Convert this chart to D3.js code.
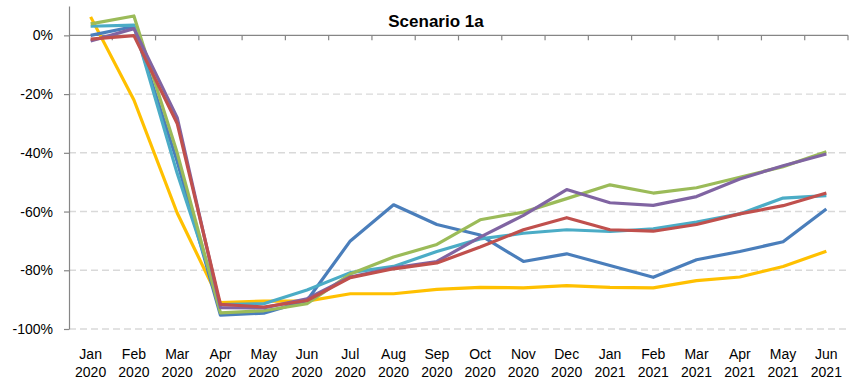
<!DOCTYPE html>
<html>
<head>
<meta charset="utf-8">
<script src="https://cdn.jsdelivr.net/npm/d3@7"></script>
<style>
  html, body { margin: 0; padding: 0; background: #fff; }
  svg { display: block; font-family: "Liberation Sans", Arial, sans-serif; }
</style>
</head>
<body>
<svg id="chart" width="853" height="379"></svg>
<script>
// Month categories (two-line labels: month / year)
const months = ["Jan","Feb","Mar","Apr","May","Jun","Jul","Aug","Sep","Oct","Nov","Dec","Jan","Feb","Mar","Apr","May","Jun"];
const years  = ["2020","2020","2020","2020","2020","2020","2020","2020","2020","2020","2020","2020","2021","2021","2021","2021","2021","2021"];

// Percentage change per month for each series
const seriesBlue   = [0, 3, -43, -95.3, -94.6, -90.3, -70, -57.7, -64.4, -68, -77, -74.4, -78.4, -82.4, -76.4, -73.6, -70.3, -59.1];
const seriesRed    = [-1.3, -0.1, -30, -91.6, -92.5, -90.3, -82.5, -79.5, -77.5, -72.1, -66.2, -62.1, -66.2, -66.7, -64.4, -60.8, -58, -53.7];
const seriesGreen  = [3.9, 6.6, -40, -94.5, -93.8, -91.4, -81.3, -75.5, -71.2, -62.8, -60.2, -55.6, -50.9, -53.7, -51.9, -48.3, -44.7, -39.6];
const seriesPurple = [-1.9, 2.3, -28, -92.7, -92.8, -89.7, -82.3, -79.2, -77, -68.7, -61.3, -52.5, -57, -57.9, -54.9, -48.9, -44.4, -40.4];
const seriesCyan   = [3.1, 3.5, -47, -91.7, -91.4, -86.7, -80.8, -78.7, -73.6, -69.3, -67.4, -66.2, -66.8, -65.9, -63.6, -60.8, -55.4, -54.6];
const seriesOrange = [6.3, -22, -60.5, -91, -90.5, -90.5, -88, -88, -86.5, -85.8, -86, -85.2, -85.8, -86, -83.5, -82.3, -78.7, -73.5];

const yTicks = [0, -20, -40, -60, -80, -100];
const title = "Scenario 1a";

// Drawing order (last drawn sits on top)
const series = [
  { values: seriesOrange, color: "#FFC000" },
  { values: seriesBlue,   color: "#4A7EBB" },
  { values: seriesCyan,   color: "#4BACC6" },
  { values: seriesGreen,  color: "#9BBB59" },
  { values: seriesPurple, color: "#8064A2" },
  { values: seriesRed,    color: "#C0504D" }
];

const svg = d3.select("#chart");
const plotLeft = 69, plotRight = 848, plotTop = 6, plotBottom = 329;

const x = d3.scaleBand().domain(d3.range(months.length)).range([plotLeft, plotRight]).padding(0);
const y = d3.scaleLinear().domain([-100, 10]).range([plotBottom, plotTop]);

// Dashed horizontal gridlines
svg.append("g")
  .selectAll("line")
  .data(yTicks.filter(d => d !== 0))
  .join("line")
  .attr("x1", plotLeft).attr("x2", plotRight)
  .attr("y1", d => y(d)).attr("y2", d => y(d))
  .attr("stroke", "#D9D9D9")
  .attr("stroke-width", 1.4)
  .attr("stroke-dasharray", "7,4");

// Y axis
const yAxis = svg.append("g")
  .attr("transform", `translate(${plotLeft},0)`)
  .call(d3.axisLeft(y).tickValues(yTicks).tickFormat(d => d + "%").tickSize(5).tickPadding(11).tickSizeOuter(0));
yAxis.select(".domain").attr("stroke", "#868686").attr("stroke-width", 1.2);
yAxis.selectAll(".tick line").attr("stroke", "#868686").attr("stroke-width", 1.2);
yAxis.selectAll(".tick text").attr("font-size", 14).attr("fill", "#000")
  .attr("font-family", "'Liberation Sans', Arial, sans-serif");

// Category axis line at 0% with tick marks on category boundaries
const y0 = y(0);
svg.append("line")
  .attr("x1", plotLeft).attr("x2", plotRight)
  .attr("y1", y0).attr("y2", y0)
  .attr("stroke", "#868686").attr("stroke-width", 1.2);
svg.append("g")
  .selectAll("line")
  .data(d3.range(1, months.length + 1))
  .join("line")
  .attr("x1", i => i < months.length ? x(i) : plotRight)
  .attr("x2", i => i < months.length ? x(i) : plotRight)
  .attr("y1", y0).attr("y2", y0 + 5)
  .attr("stroke", "#868686").attr("stroke-width", 1.2);

// Category labels below the plot
const labels = svg.append("g")
  .attr("font-size", 14)
  .attr("fill", "#000")
  .attr("text-anchor", "middle");
labels.selectAll("text.m")
  .data(months)
  .join("text")
  .attr("class", "m")
  .attr("x", (d, i) => x(i) + x.bandwidth() / 2)
  .attr("y", 359)
  .text(d => d);
labels.selectAll("text.yr")
  .data(years)
  .join("text")
  .attr("class", "yr")
  .attr("x", (d, i) => x(i) + x.bandwidth() / 2)
  .attr("y", 377)
  .text(d => d);

// Series lines
const line = d3.line()
  .x((d, i) => x(i) + x.bandwidth() / 2)
  .y(d => y(d));
svg.append("g")
  .selectAll("path")
  .data(series)
  .join("path")
  .attr("d", s => line(s.values))
  .attr("fill", "none")
  .attr("stroke", s => s.color)
  .attr("stroke-width", 3.2)
  .attr("stroke-linejoin", "round")
  .attr("stroke-linecap", "butt");

// Title
svg.append("text")
  .attr("x", 436)
  .attr("y", 27)
  .attr("text-anchor", "middle")
  .attr("font-size", 17)
  .attr("font-weight", "bold")
  .attr("fill", "#000")
  .text(title);
</script>
</body>
</html>
